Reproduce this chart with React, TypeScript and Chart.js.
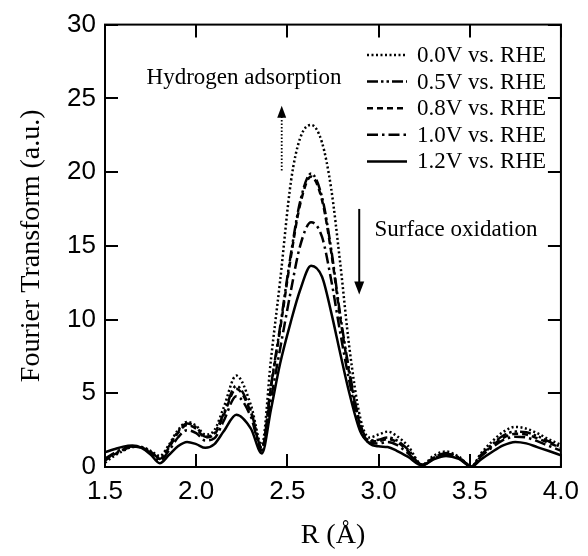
import React, { useEffect, useRef } from "react";
import { Chart, registerables } from "chart.js";

Chart.register(...registerables);

// R (Å) sample positions
const R = [1.50, 1.55, 1.60, 1.65, 1.70, 1.75, 1.80, 1.85, 1.90, 1.95, 2.00, 2.05, 2.10, 2.15, 2.22, 2.30, 2.36, 2.41, 2.46, 2.52, 2.57, 2.63, 2.69, 2.74, 2.79, 2.84, 2.90, 2.95, 3.00, 3.05, 3.10, 3.16, 3.24, 3.30, 3.37, 3.44, 3.51, 3.56, 3.62, 3.68, 3.75, 3.81, 3.87, 3.93, 4.00];

const ft00 = [0.3, 0.75, 1.1, 1.35, 1.35, 1.1, 0.75, 1.5, 2.5, 3.05, 2.8, 2.2, 2.5, 4.0, 6.2, 4.2, 1.5, 7.3, 12.6, 19.4, 22.3, 23.2, 22.0, 18.9, 13.8, 8.1, 3.3, 2.0, 2.2, 2.4, 2.1, 1.45, 0.15, 0.75, 1.05, 0.7, 0.05, 0.9, 1.7, 2.35, 2.72, 2.6, 2.3, 1.9, 1.5];
const ft05 = [0.5, 0.9, 1.2, 1.4, 1.35, 1.05, 0.6, 1.4, 2.4, 2.95, 2.7, 2.05, 2.3, 3.6, 5.5, 3.8, 1.3, 5.5, 9.5, 14.5, 18.0, 19.9, 18.3, 14.8, 10.3, 6.5, 2.9, 1.8, 1.85, 2.0, 1.8, 1.2, 0.15, 0.6, 0.95, 0.65, 0.05, 0.8, 1.5, 2.1, 2.4, 2.35, 2.1, 1.75, 1.35];
const ft08 = [0.45, 0.85, 1.15, 1.38, 1.33, 1.0, 0.55, 1.3, 2.3, 2.85, 2.6, 2.0, 2.2, 3.5, 5.3, 3.7, 1.25, 5.4, 9.3, 14.3, 17.8, 19.7, 18.1, 14.6, 10.1, 6.3, 2.8, 1.75, 1.75, 1.9, 1.7, 1.1, 0.15, 0.6, 0.9, 0.6, 0.05, 0.75, 1.4, 1.95, 2.25, 2.2, 1.95, 1.65, 1.3];
const ft10 = [0.55, 0.95, 1.25, 1.4, 1.3, 0.95, 0.45, 1.1, 2.0, 2.5, 2.3, 1.8, 1.95, 3.1, 4.8, 3.4, 1.1, 4.6, 8.0, 12.0, 15.0, 16.6, 15.6, 12.7, 9.1, 5.8, 2.6, 1.65, 1.6, 1.7, 1.5, 0.95, 0.12, 0.55, 0.85, 0.6, 0.04, 0.7, 1.3, 1.8, 2.05, 2.0, 1.75, 1.45, 1.1];
const ft12 = [1.0, 1.2, 1.38, 1.45, 1.3, 0.85, 0.25, 0.8, 1.4, 1.7, 1.55, 1.3, 1.55, 2.4, 3.55, 2.6, 0.92, 3.9, 7.0, 9.9, 12.0, 13.65, 12.9, 10.5, 7.7, 5.0, 2.4, 1.6, 1.4, 1.35, 1.1, 0.7, 0.1, 0.5, 0.75, 0.55, 0.03, 0.5, 1.0, 1.45, 1.7, 1.6, 1.35, 1.1, 0.8];

const seriesLabels = ["0.0V vs. RHE", "0.5V vs. RHE", "0.8V vs. RHE", "1.0V vs. RHE", "1.2V vs. RHE"];
const xTicks = [1.5, 2.0, 2.5, 3.0, 3.5, 4.0];
const yTicks = [0, 5, 10, 15, 20, 25, 30];

const SERIF = "'Liberation Serif', 'Times New Roman', serif";
const SANS = "'Liberation Sans', Arial, sans-serif";

const styles = [
  { dash: [2, 2.5], width: 2.5 },
  { dash: [11, 3, 2.5, 3, 2.5, 3], width: 2.5 },
  { dash: [6, 4], width: 2.5 },
  { dash: [11, 4, 2.5, 4], width: 2.5 },
  { dash: [], width: 2.5 },
];

const frameAndExtras = {
  id: "frameAndExtras",
  afterDatasetsDraw(chart: any) {
    const { ctx, chartArea, scales } = chart;
    const { left, right, top, bottom } = chartArea;
    const xs = scales.x;
    const ys = scales.y;
    ctx.save();
    ctx.strokeStyle = "#000";
    ctx.fillStyle = "#000";
    ctx.lineWidth = 2;
    ctx.setLineDash([]);
    ctx.strokeRect(left, top, right - left, bottom - top);
    const L = 13;
    ctx.beginPath();
    for (const t of xTicks) {
      const px = Math.round(xs.getPixelForValue(t));
      ctx.moveTo(px, bottom);
      ctx.lineTo(px, bottom - L);
      ctx.moveTo(px, top);
      ctx.lineTo(px, top + L);
    }
    for (const t of yTicks) {
      const py = Math.round(ys.getPixelForValue(t));
      ctx.moveTo(left, py);
      ctx.lineTo(left + L, py);
      ctx.moveTo(right, py);
      ctx.lineTo(right - L, py);
    }
    ctx.stroke();

    // legend
    const ds = chart.data.datasets;
    ctx.font = `23px ${SERIF}`;
    ctx.textBaseline = "middle";
    ctx.textAlign = "left";
    for (let i = 0; i < ds.length; i++) {
      const yy = 55 + i * 26.6;
      ctx.beginPath();
      ctx.lineWidth = ds[i].borderWidth;
      ctx.setLineDash(ds[i].borderDash || []);
      ctx.moveTo(367, yy);
      ctx.lineTo(407, yy);
      ctx.stroke();
      ctx.setLineDash([]);
      ctx.fillText(ds[i].label, 417, yy + 1);
    }

    // annotations
    ctx.fillText("Hydrogen adsorption", xs.getPixelForValue(1.728), ys.getPixelForValue(26.4));
    ctx.fillText("Surface oxidation", xs.getPixelForValue(2.978), ys.getPixelForValue(16.05));

    // dotted arrow up
    const ax = xs.getPixelForValue(2.469);
    const ay0 = ys.getPixelForValue(20.1);
    const ay1 = ys.getPixelForValue(24.5);
    ctx.lineWidth = 1.8;
    ctx.setLineDash([1.5, 2]);
    ctx.beginPath();
    ctx.moveTo(ax, ay0);
    ctx.lineTo(ax, ay1 + 8);
    ctx.stroke();
    ctx.setLineDash([]);
    ctx.beginPath();
    ctx.moveTo(ax, ay1);
    ctx.lineTo(ax - 4.5, ay1 + 12);
    ctx.lineTo(ax + 4.5, ay1 + 12);
    ctx.closePath();
    ctx.fill();

    // solid arrow down
    const bx = xs.getPixelForValue(2.894);
    const by0 = ys.getPixelForValue(17.5);
    const by1 = ys.getPixelForValue(11.7);
    ctx.lineWidth = 2;
    ctx.beginPath();
    ctx.moveTo(bx, by0);
    ctx.lineTo(bx, by1 - 8);
    ctx.stroke();
    ctx.beginPath();
    ctx.moveTo(bx, by1);
    ctx.lineTo(bx - 5, by1 - 13);
    ctx.lineTo(bx + 5, by1 - 13);
    ctx.closePath();
    ctx.fill();
    ctx.restore();
  },
};

export default function App() {
  const ref = useRef<HTMLCanvasElement | null>(null);
  useEffect(() => {
    if (!ref.current) return;
    const series = [ft00, ft05, ft08, ft10, ft12];
    const chart = new Chart(ref.current, {
      type: "line",
      data: {
        datasets: series.map((s, i) => ({
          label: seriesLabels[i],
          data: R.map((r, j) => ({ x: r, y: s[j] })),
          borderColor: "#000",
          backgroundColor: "#000",
          borderWidth: styles[i].width,
          borderDash: styles[i].dash,
          pointRadius: 0,
          fill: false,
          cubicInterpolationMode: "monotone" as const,
        })),
      },
      plugins: [frameAndExtras],
      options: {
        responsive: false,
        animation: false,
        layout: { padding: { top: 22, right: 23, left: 0, bottom: 0 } },
        plugins: { legend: { display: false }, tooltip: { enabled: false } },
        scales: {
          x: {
            type: "linear",
            min: 1.5,
            max: 4.0,
            afterFit: (s: any) => { s.height = 89; },
            afterBuildTicks: (s: any) => { s.ticks = xTicks.map((v) => ({ value: v })); },
            grid: { display: false, drawTicks: false },
            border: { display: false },
            ticks: {
              color: "#000",
              padding: 9,
              font: { family: SANS, size: 26 },
              callback: (v: any) => Number(v).toFixed(1),
              maxRotation: 0,
            },
            title: {
              display: true,
              text: "R (Å)",
              color: "#000",
              font: { family: SERIF, size: 28 },
              padding: { top: 0, bottom: 4 },
            },
          },
          y: {
            type: "linear",
            min: 0,
            max: 30,
            afterFit: (s: any) => { s.width = 105; },
            afterBuildTicks: (s: any) => { s.ticks = yTicks.map((v) => ({ value: v })); },
            grid: { display: false, drawTicks: false },
            border: { display: false },
            ticks: {
              color: "#000",
              padding: 9,
              font: { family: SANS, size: 26 },
            },
            title: {
              display: true,
              text: "Fourier Transform (a.u.)",
              color: "#000",
              font: { family: SERIF, size: 28 },
              padding: { top: 15, bottom: 0 },
            },
          },
        },
      },
    });
    return () => chart.destroy();
  }, []);
  return (
    <div style={{ position: "absolute", left: 0, top: 0, width: 588, height: 556, background: "#fff" }}>
      <canvas ref={ref} width={588} height={556} />
    </div>
  );
}
